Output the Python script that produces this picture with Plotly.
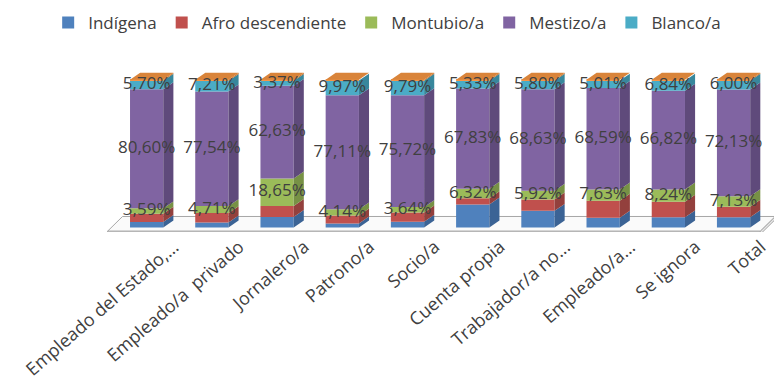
import numpy as np
import plotly.graph_objects as go

# Ocupación por categoría y autoidentificación étnica (%)
categorias = ["Empleado del Estado,...", "Empleado/a  privado", "Jornalero/a", "Patrono/a",
              "Socio/a", "Cuenta propia", "Trabajador/a no...", "Empleado/a...",
              "Se ignora", "Total"]

indigena = [3.8, 3.5, 7.2, 2.8, 3.9, 15.6, 11.3, 6.6, 6.9, 7.0]
afro = [5.6, 6.3, 7.4, 5.4, 6.3, 4.3, 7.7, 11.6, 10.6, 7.1]
montubio = [3.59, 4.71, 18.65, 4.14, 3.64, 6.32, 5.92, 7.63, 8.24, 7.13]
mestizo = [80.60, 77.54, 62.63, 77.11, 75.72, 67.83, 68.63, 68.59, 66.82, 72.13]
blanco = [5.70, 7.21, 3.37, 9.97, 9.79, 5.33, 5.80, 5.01, 6.84, 6.00]
otro = [0.71, 0.74, 0.75, 0.58, 0.65, 0.62, 0.65, 0.57, 0.60, 0.64]

series = [
    ("Indígena", indigena, "#4F81BD", "#3B6395", True),
    ("Afro descendiente", afro, "#C0504D", "#93403D", True),
    ("Montubio/a", montubio, "#9BBB59", "#779145", True),
    ("Mestizo/a", mestizo, "#8064A2", "#5F4A7B", True),
    ("Blanco/a", blanco, "#4BACC6", "#38879C", True),
    ("Otro/a", otro, "#F79646", "#C46F2A", False),
]

n = len(categorias)
xs = np.arange(n)
BAR_W = 0.51         # front face width (axis units)
DX, DY = 0.155, 4.7  # depth offset of the 3D extrusion
LABEL_SHIFT = 0.42

def fmt(v):
    return f"{v:.2f}".replace(".", ",") + "%"

fig = go.Figure()

# front faces of the stacked columns
base = np.zeros(n)
bases = []
for name, vals, col, dark, show in series:
    vals = np.array(vals, dtype=float)
    bases.append(base.copy())
    fig.add_trace(go.Bar(x=xs, y=vals, base=base, name=name, width=BAR_W,
                         marker=dict(color=col, line=dict(width=0)),
                         showlegend=show, hoverinfo="skip"))
    base = base + vals
tops = base

# side faces of each segment, drawn with the same stacked values
for (name, vals, col, dark, show), b in zip(series, bases):
    px, py = [], []
    for i in range(n):
        x0 = xs[i] + BAR_W / 2
        y0, y1 = b[i], b[i] + vals[i]
        px += [x0, x0 + DX, x0 + DX, x0, x0, None]
        py += [y0, y0 + DY, y1 + DY, y1, y0, None]
    fig.add_trace(go.Scatter(x=px, y=py, mode="lines", fill="toself",
                             fillcolor=dark, line=dict(width=0, color=dark),
                             showlegend=False, hoverinfo="skip"))

# top faces (colour of the uppermost segment)
tx, ty = [], []
for i in range(n):
    xl, xr = xs[i] - BAR_W / 2, xs[i] + BAR_W / 2
    t = tops[i]
    tx += [xl, xl + DX, xr + DX, xr, xl, None]
    ty += [t, t + DY, t + DY, t, t, None]
fig.add_trace(go.Scatter(x=tx, y=ty, mode="lines", fill="toself",
                         fillcolor="#D9843A", line=dict(width=0, color="#D9843A"),
                         showlegend=False, hoverinfo="skip"))

# data labels for Montubio/a, Mestizo/a and Blanco/a
label_font = dict(family="Open Sans", size=17, color="#404040")
for idx in (2, 3, 4):
    name, vals, col, dark, show = series[idx]
    vals = np.array(vals, dtype=float)
    mids = bases[idx] + vals / 2
    fig.add_trace(go.Scatter(x=xs, y=mids, mode="text", text=[fmt(v) for v in vals],
                             textposition="middle center", textfont=label_font,
                             showlegend=False, hoverinfo="skip", cliponaxis=False))

# floor plate
fl_x0, fl_x1 = -0.6, 9.41
fl_front, fl_back, fl_thick = -2.5, 7.5, 2.0
fl_dx = 0.23
floor_line = dict(color="#A6A6A6", width=1)
fig.add_shape(type="path", layer="below", line=floor_line, fillcolor="#FAFAFA",
              path=(f"M{fl_x0},{fl_front} L{fl_x0 + fl_dx},{fl_back} "
                    f"L{fl_x1 + fl_dx},{fl_back} L{fl_x1},{fl_front} Z"))
fig.add_shape(type="path", layer="below", line=floor_line, fillcolor="#F2F2F2",
              path=(f"M{fl_x0},{fl_front} L{fl_x1},{fl_front} L{fl_x1},{fl_front - fl_thick} "
                    f"L{fl_x0},{fl_front - fl_thick} Z"))
fig.add_shape(type="path", layer="below", line=floor_line, fillcolor="#E6E6E6",
              path=(f"M{fl_x1},{fl_front} L{fl_x1 + fl_dx},{fl_back} "
                    f"L{fl_x1 + fl_dx},{fl_back - fl_thick} L{fl_x1},{fl_front - fl_thick} Z"))

fig.update_layout(
    width=777, height=383,
    margin=dict(l=101, r=3, t=62, b=151),
    paper_bgcolor="white", plot_bgcolor="white",
    barmode="overlay",
    font=dict(family="Open Sans", size=16, color="#404040"),
    legend=dict(orientation="h", xref="container", yref="container",
                x=0.062, y=0.94, xanchor="left", yanchor="middle",
                font=dict(family="Open Sans", size=17, color="#404040"),
                itemwidth=30, traceorder="normal", bgcolor="rgba(0,0,0,0)"),
    xaxis=dict(range=[-0.7, 9.62], showgrid=False, zeroline=False, showline=False,
               tickmode="array", tickvals=xs + LABEL_SHIFT, ticktext=categorias,
               tickangle=-41, ticks="", tickfont=dict(family="Open Sans", size=18, color="#404040")),
    yaxis=dict(range=[-3, 112], showgrid=False, zeroline=False, showline=False,
               showticklabels=False, ticks=""),
    showlegend=True,
)

fig.write_html("out.html")
